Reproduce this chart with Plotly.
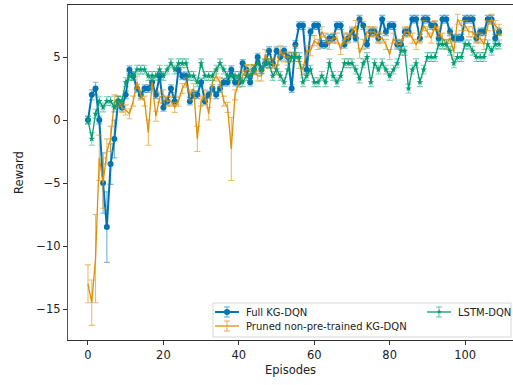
import plotly.graph_objects as go

episodes = list(range(110))

full_kg = [0, 2, 2.5, 0, -5, -8.5, -3.5, -1.5, 1.5, 1,
           2, 4, 3.5, 2.5, 2, 2.5, 2.5, 3, 2, 3.5,
           1, 1.5, 2.5, 1.5, 4, 3.5, 3.5, 1.5, 2, 2,
           3, 1.5, 2, 2.5, 2, 2.5, 3, 3, 4, 3,
           3, 4.5, 4, 3, 4, 5, 4, 4.5, 5.5, 4.5,
           5.5, 5, 5.5, 5, 2.5, 6, 7.5, 7.5, 4, 7,
           7.5, 7.5, 6, 6, 6.5, 6.5, 7.5, 7.5, 6, 6.5,
           7, 6.5, 8, 7.5, 6, 7, 7, 6.5, 8, 7,
           7.5, 7.5, 6, 6, 7, 7, 8, 8, 6.5, 8,
           8, 7.5, 7.5, 6.5, 8, 8, 7, 6.5, 6.5, 6.5,
           8, 8, 8, 6.5, 7, 7, 8, 8, 6.5, 7]
full_err = [0.3, 0.4, 0.5, 0.3, 2.4, 2.8, 1.6, 1.5, 0.4, 0.3] + [0.3] * 100

pruned_kg = [-13, -14.5, -11, -3, -5, -2.5, -1.5, 1.5, 1.5, 1,
             0.8, 0.5, 1.5, 3, 2, 1.5, -1, 3, 0.3, 1.8,
             2, 1.5, 1.5, 1, 1.5, 2.5, 3, 2, 2.5, -1.5,
             1.5, 2, 0.5, 3, 3.5, 3, 1.5, 1, -2.3, 2,
             3, 3.5, 4, 4, 4, 3.5, 3.5, 5.2, 4.5, 4.5,
             4, 5.5, 5, 5, 5, 5.5, 4.5, 4, 5.5, 5.5,
             6.3, 6, 7, 6.5, 6, 6.5, 6.5, 5.6, 6.5, 6.5,
             7, 7.5, 5.3, 6, 7, 7, 7, 6.5, 6.5, 6,
             5.2, 6.5, 6, 6, 7, 7, 6.5, 6, 6.5, 7.5,
             7, 6.5, 7.5, 7, 6.5, 6, 6.5, 5.4, 8, 7.5,
             7.5, 7, 7, 6.5, 6.5, 6, 7.5, 8, 7.5, 7.2]
pruned_err = [1.5, 1.8, 3.5, 1.8, 2.0, 1.0, 1.0, 0.5, 0.4, 0.4,
              0.4, 0.4, 0.4, 0.5, 0.4, 0.4, 1.0, 0.4, 0.4, 0.4,
              0.4, 0.4, 0.4, 0.4, 0.4, 0.4, 0.4, 0.4, 0.4, 1.0,
              0.4, 0.4, 0.5, 0.4, 0.4, 0.4, 0.4, 0.4, 2.5, 0.4] + [0.4] * 70

lstm = [0, -1.5, 0.5, 1.5, 1, 1.5, 1.5, 1, 1.5, 1.5,
        3, 3.5, 3.5, 4, 4, 4, 3.5, 3.5, 3.5, 4,
        3.5, 4, 4.5, 4, 4.5, 4.5, 4.5, 3.5, 3.5, 3,
        4.5, 3.5, 3.5, 3.5, 4, 4.5, 4, 3.5, 3.5, 3.5,
        3.5, 3, 3.5, 3.5, 4, 4.5, 4, 4.5, 4.5, 3.5,
        4, 3.5, 3, 4, 5, 5, 5, 3, 3.5, 4,
        3, 3, 3.5, 3, 4.5, 3.5, 3, 3.5, 4.5, 4.5,
        4.5, 4, 3.3, 4.5, 5, 3, 4.5, 4, 4.5, 4,
        3.5, 4, 4.5, 5.5, 5.5, 2.5, 4, 4.5, 3, 4,
        5, 5, 5, 6, 6, 6, 5.5, 4.5, 5, 5,
        6, 6, 5.5, 5, 5, 5, 6, 5.5, 6, 6]
lstm_err = [0.3, 0.5] + [0.35] * 108

series_names = ["Full KG-DQN", "Pruned non-pre-trained KG-DQN", "LSTM-DQN"]

BLUE = "#0173B2"
ORANGE = "#DE8F05"
GREEN = "#029E73"
BLUE_E = "rgba(1,115,178,0.5)"
ORANGE_E = "rgba(222,143,5,0.6)"
GREEN_E = "rgba(2,158,115,0.5)"

fig = go.Figure()
fig.add_trace(go.Scatter(
    x=episodes, y=full_kg, name=series_names[0], mode="lines+markers",
    line=dict(color=BLUE, width=2),
    marker=dict(symbol="circle", size=6, color=BLUE),
    error_y=dict(type="data", array=full_err, visible=True,
                 color=BLUE_E, thickness=1.2, width=3),
    showlegend=False,
))
fig.add_trace(go.Scatter(
    x=episodes, y=pruned_kg, name=series_names[1], mode="lines",
    line=dict(color=ORANGE, width=1.3),
    error_y=dict(type="data", array=pruned_err, visible=True,
                 color=ORANGE_E, thickness=1.1, width=3),
    showlegend=False,
))
fig.add_trace(go.Scatter(
    x=episodes, y=lstm, name=series_names[2], mode="lines+markers",
    line=dict(color=GREEN, width=1.3),
    marker=dict(symbol="star", size=5, color=GREEN),
    error_y=dict(type="data", array=lstm_err, visible=True,
                 color=GREEN_E, thickness=1.1, width=3),
    showlegend=False,
))

W, H = 513, 385
ml, mr, mt, mb = 68, 0, 5, 45
pw, ph = W - ml - mr, H - mt - mb


def px_x(p):
    return (p - ml) / pw


def px_y(p):
    return 1 - (p - mt) / ph


shapes = [dict(type="rect", xref="paper", yref="paper",
               x0=px_x(213), x1=px_x(511), y0=px_y(337), y1=px_y(303),
               line=dict(color="#d6d6d6", width=1),
               fillcolor="rgba(255,255,255,0.85)", layer="above")]
annotations = []

legend_items = [
    (series_names[0], BLUE, BLUE_E, 215, 312, "circle"),
    (series_names[1], ORANGE, ORANGE_E, 215, 326, None),
    (series_names[2], GREEN, GREEN_E, 427, 312, "star"),
]
for name, col, ecol, x0, yc, mk in legend_items:
    xc = x0 + 12
    shapes.append(dict(type="line", xref="paper", yref="paper",
                       x0=px_x(x0), x1=px_x(x0 + 24), y0=px_y(yc), y1=px_y(yc),
                       line=dict(color=col, width=2 if mk == "circle" else 1.3),
                       layer="above"))
    shapes.append(dict(type="line", xref="paper", yref="paper",
                       x0=px_x(xc), x1=px_x(xc), y0=px_y(yc - 5), y1=px_y(yc + 5),
                       line=dict(color=ecol, width=1.2), layer="above"))
    for yy in (yc - 5, yc + 5):
        shapes.append(dict(type="line", xref="paper", yref="paper",
                           x0=px_x(xc - 3), x1=px_x(xc + 3), y0=px_y(yy), y1=px_y(yy),
                           line=dict(color=ecol, width=1.2), layer="above"))
    if mk == "circle":
        shapes.append(dict(type="circle", xref="paper", yref="paper",
                           x0=px_x(xc - 3), x1=px_x(xc + 3),
                           y0=px_y(yc + 3), y1=px_y(yc - 3),
                           line=dict(color=col, width=0), fillcolor=col,
                           layer="above"))
    elif mk == "star":
        annotations.append(dict(text="★", xref="paper", yref="paper",
                                x=px_x(xc), y=px_y(yc), xanchor="center",
                                yanchor="middle", showarrow=False,
                                font=dict(size=7, color=col)))
    annotations.append(dict(text=name, xref="paper", yref="paper",
                            x=px_x(x0 + 29), y=px_y(yc), xanchor="left",
                            yanchor="middle", showarrow=False,
                            font=dict(size=10, color="#222")))

fig.update_layout(
    width=W, height=H,
    margin=dict(l=ml, r=mr, t=mt, b=mb, autoexpand=False),
    paper_bgcolor="white", plot_bgcolor="white",
    font=dict(family="DejaVu Sans", size=11, color="#222"),
    showlegend=False,
    xaxis=dict(range=[-5.3, 112.7], tickvals=[0, 20, 40, 60, 80, 100],
               showgrid=False, zeroline=False, showline=True, mirror=True,
               linecolor="#333", linewidth=1.2, ticks="outside", ticklen=4,
               tickcolor="#333", tickfont=dict(size=11.5), automargin=False,
               title=dict(text="Episodes", font=dict(size=11.5), standoff=5)),
    yaxis=dict(range=[-17.46, 9.13], tickvals=[-15, -10, -5, 0, 5],
               showgrid=False, zeroline=False, showline=True,
               linecolor="#555", linewidth=1.2, ticks="outside", ticklen=4,
               tickcolor="#333", tickfont=dict(size=11.5), automargin=False,
               title=dict(text="Reward", font=dict(size=11.5), standoff=10)),
    shapes=shapes,
    annotations=annotations,
)

fig.write_html(
    "out.html",
    config={"displayModeBar": False},
    post_script="document.body.style.margin='0';document.body.style.padding='0';"
                "document.body.style.overflow='hidden';",
)
